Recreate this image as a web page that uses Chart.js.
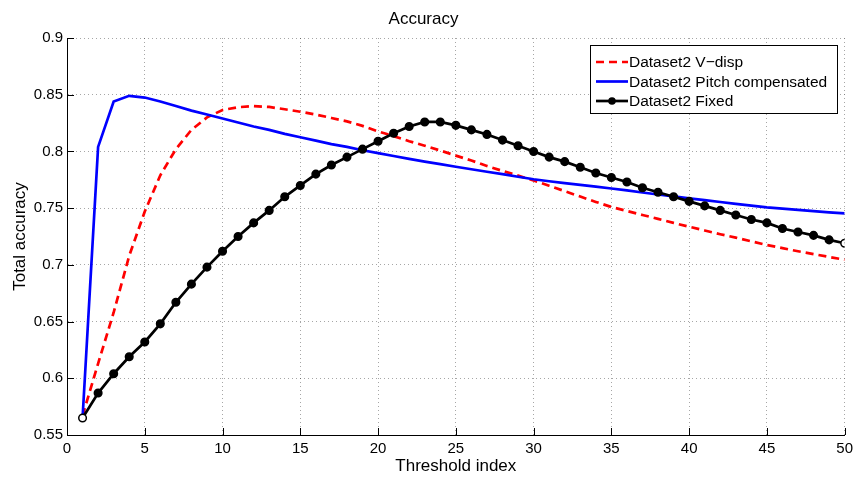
<!DOCTYPE html>
<html>
<head>
<meta charset="utf-8">
<script src="https://cdn.jsdelivr.net/npm/chart.js@4/dist/chart.umd.min.js"></script>
<style>
    html, body { margin: 0; padding: 0; background: #fff; }
    #wrap { width: 858px; height: 480px; }
</style>
</head>
<body>
<div id="wrap"><canvas id="accChart" width="858" height="480"></canvas></div>
<script>
// threshold index (x) and the three accuracy curves
const thresholdIdx = [1, 2, 3, 4, 5, 6, 7, 8, 9, 10, 11, 12, 13, 14, 15, 16, 17, 18, 19, 20,
    21, 22, 23, 24, 25, 26, 27, 28, 29, 30, 31, 32, 33, 34, 35, 36, 37, 38, 39, 40,
    41, 42, 43, 44, 45, 46, 47, 48, 49, 50];

const vdispAcc = [0.567, 0.613, 0.658, 0.708, 0.747, 0.779, 0.802, 0.819, 0.830, 0.8365,
    0.839, 0.840, 0.8392, 0.8372, 0.835, 0.8325, 0.8295, 0.8265, 0.8225, 0.8177,
    0.8135, 0.809, 0.805, 0.8008, 0.7963, 0.792, 0.7872, 0.7828, 0.7787, 0.7745,
    0.7697, 0.765, 0.7602, 0.7555, 0.751, 0.7475, 0.744, 0.7405, 0.737, 0.7336,
    0.7303, 0.727, 0.724, 0.7207, 0.7175, 0.7148, 0.712, 0.7095, 0.707, 0.7045];

const pitchAcc = [0.565, 0.804, 0.844, 0.849, 0.8475, 0.844, 0.840, 0.836, 0.8325, 0.829,
    0.8255, 0.822, 0.819, 0.8155, 0.8125, 0.8095, 0.8065, 0.804, 0.801, 0.7985,
    0.796, 0.7935, 0.791, 0.7888, 0.7865, 0.7843, 0.7821, 0.780, 0.7777, 0.7755,
    0.7737, 0.772, 0.7705, 0.769, 0.7673, 0.7656, 0.7638, 0.762, 0.7603, 0.7586,
    0.757, 0.7554, 0.7538, 0.7522, 0.7507, 0.7496, 0.7485, 0.7474, 0.7463, 0.7454];

const fixedAcc = [0.565, 0.587, 0.604, 0.619, 0.632, 0.648, 0.667, 0.683, 0.698, 0.712,
    0.725, 0.737, 0.748, 0.760, 0.770, 0.780, 0.788, 0.795, 0.802, 0.809,
    0.816, 0.822, 0.826, 0.826, 0.823, 0.819, 0.815, 0.810, 0.805, 0.800,
    0.795, 0.791, 0.786, 0.781, 0.777, 0.773, 0.768, 0.764, 0.760, 0.756,
    0.752, 0.748, 0.744, 0.740, 0.737, 0.732, 0.729, 0.726, 0.722, 0.719];

const seriesNames = ['Dataset2 V\u2212disp', 'Dataset2 Pitch compensated', 'Dataset2 Fixed'];
const xTicks = [0, 5, 10, 15, 20, 25, 30, 35, 40, 45, 50];
const yTicks = [0.55, 0.6, 0.65, 0.7, 0.75, 0.8, 0.85, 0.9];

const FONT = "'Liberation Sans', Arial, Helvetica, sans-serif";

function toPoints(ys) {
    return thresholdIdx.map((x, i) => ({ x: x, y: ys[i] }));
}

// black open circles at both ends, like the matlab export
const fixedFill = thresholdIdx.map((x, i) => (i === 0 || i === thresholdIdx.length - 1) ? '#fff' : '#000');

// inward tick marks on left and bottom axes
const tickPlugin = {
    id: 'inTicks',
    afterDraw(chart) {
        const ctx = chart.ctx;
        const a = chart.chartArea;
        const xs = chart.scales.x, ys = chart.scales.y;
        ctx.save();
        ctx.strokeStyle = '#000';
        ctx.lineWidth = 1;
        ctx.beginPath();
        xTicks.forEach(v => {
            const px = Math.round(xs.getPixelForValue(v)) + 0.5;
            ctx.moveTo(px, a.bottom);
            ctx.lineTo(px, a.bottom - 7);
        });
        yTicks.forEach(v => {
            const py = Math.round(ys.getPixelForValue(v)) + 0.5;
            ctx.moveTo(a.left, py);
            ctx.lineTo(a.left + 7, py);
        });
        ctx.stroke();
        ctx.restore();
    }
};

// boxed legend in the upper right of the plot
const legendPlugin = {
    id: 'boxLegend',
    afterDraw(chart) {
        const ctx = chart.ctx;
        const bx = 590, by = 45, bw = 247, bh = 68;
        const rows = [62, 81.5, 101];
        ctx.save();
        ctx.fillStyle = '#fff';
        ctx.fillRect(bx, by, bw, bh);
        ctx.strokeStyle = '#000';
        ctx.lineWidth = 1;
        ctx.strokeRect(bx + 0.5, by + 0.5, bw, bh);
        chart.data.datasets.forEach((ds, i) => {
            const y = rows[i];
            ctx.strokeStyle = ds.borderColor;
            ctx.lineWidth = ds.borderWidth;
            ctx.setLineDash(ds.borderDash || []);
            ctx.beginPath();
            ctx.moveTo(596, y);
            ctx.lineTo(628, y);
            ctx.stroke();
            ctx.setLineDash([]);
            if (ds.pointRadius > 0) {
                ctx.fillStyle = ds.borderColor;
                ctx.beginPath();
                ctx.arc(612, y, ds.pointRadius, 0, Math.PI * 2);
                ctx.fill();
            }
            ctx.fillStyle = '#000';
            ctx.font = '15.5px ' + FONT;
            ctx.textBaseline = 'middle';
            ctx.textAlign = 'left';
            ctx.fillText(ds.label, 629, y + 1);
        });
        ctx.restore();
    }
};

document.addEventListener('DOMContentLoaded', function() {
    const ctx = document.getElementById('accChart').getContext('2d');
    new Chart(ctx, {
        type: 'line',
        data: {
            datasets: [
                {
                    label: seriesNames[0],
                    data: toPoints(vdispAcc),
                    borderColor: '#ff0000',
                    borderWidth: 2.7,
                    borderDash: [8, 5],
                    pointRadius: 0,
                    tension: 0,
                    order: 3
                },
                {
                    label: seriesNames[1],
                    data: toPoints(pitchAcc),
                    borderColor: '#0000ff',
                    borderWidth: 2.7,
                    pointRadius: 0,
                    tension: 0,
                    order: 2
                },
                {
                    label: seriesNames[2],
                    data: toPoints(fixedAcc),
                    borderColor: '#000000',
                    borderWidth: 2.7,
                    pointRadius: 3.8,
                    pointBackgroundColor: fixedFill,
                    pointBorderColor: '#000',
                    pointBorderWidth: 1.5,
                    tension: 0,
                    order: 1
                }
            ]
        },
        options: {
            responsive: false,
            animation: false,
            devicePixelRatio: 1,
            layout: { padding: { left: 0, right: 11, top: 0, bottom: 0 } },
            plugins: {
                legend: { display: false },
                tooltip: { enabled: false },
                title: {
                    display: true,
                    text: 'Accuracy',
                    color: '#000',
                    font: { family: FONT, size: 17, weight: 'normal' },
                    padding: { top: 9, bottom: 8.6 }
                }
            },
            scales: {
                x: {
                    type: 'linear',
                    min: 0,
                    max: 50,
                    afterFit: s => { s.height = 45; },
                    afterBuildTicks: s => { s.ticks = xTicks.map(v => ({ value: v })); },
                    ticks: {
                        color: '#000',
                        padding: 5,
                        maxRotation: 0,
                        font: { family: FONT, size: 15 }
                    },
                    grid: { color: 'rgba(0,0,0,0.35)', lineWidth: 1, drawTicks: false },
                    border: { color: '#000', width: 1, dash: [1, 3] },
                    title: {
                        display: true,
                        text: 'Threshold index',
                        color: '#000',
                        font: { family: FONT, size: 17 },
                        padding: { top: 0, bottom: 3 }
                    }
                },
                y: {
                    type: 'linear',
                    min: 0.55,
                    max: 0.9,
                    afterFit: s => { s.width = 67; },
                    afterBuildTicks: s => { s.ticks = yTicks.map(v => ({ value: v })); },
                    ticks: {
                        color: '#000',
                        padding: 4,
                        font: { family: FONT, size: 15 },
                        callback: v => String(parseFloat(v.toFixed(2)))
                    },
                    grid: { color: 'rgba(0,0,0,0.35)', lineWidth: 1, drawTicks: false },
                    border: { color: '#000', width: 1, dash: [1, 3] },
                    title: {
                        display: true,
                        text: 'Total accuracy',
                        color: '#000',
                        font: { family: FONT, size: 17 },
                        padding: { top: 10, bottom: 0 }
                    }
                }
            }
        },
        plugins: [tickPlugin, legendPlugin]
    });
});
</script>
</body>
</html>
